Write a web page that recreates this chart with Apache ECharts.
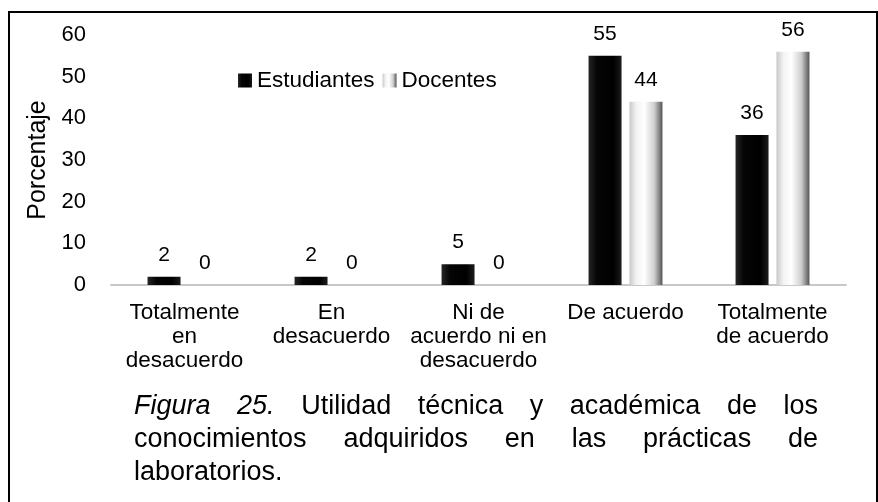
<!DOCTYPE html>
<html>
<head>
<meta charset="utf-8">
<script src="https://cdn.jsdelivr.net/npm/echarts@6/dist/echarts.min.js"></script>
<style>
  html, body { margin: 0; padding: 0; background: #fff; }
  #main { width: 878px; height: 502px; }
</style>
</head>
<body>
<div id="main"></div>
<script>
// data
const categories = [
  'Totalmente\nen\ndesacuerdo',
  'En\ndesacuerdo',
  'Ni de\nacuerdo ni en\ndesacuerdo',
  'De acuerdo',
  'Totalmente\nde acuerdo'
];
const estudiantes = [2, 2, 5, 55, 36];
const docentes = [0, 0, 0, 44, 56];
const yTicks = { min: 0, max: 60, interval: 10 };

const captionLines = [
  ['Figura', '25.', 'Utilidad', 'técnica', 'y', 'académica', 'de', 'los'],
  ['conocimientos', 'adquiridos', 'en', 'las', 'prácticas', 'de'],
  ['laboratorios.']
];
const italicWords = 2; // "Figura 25." is italic

const FONT = '"Liberation Sans", Arial, sans-serif';

// caption words placed by hand so lines come out justified
function buildCaption(x0, x1, baseline0, lineGap, size) {
  const ctx = document.createElement('canvas').getContext('2d');
  const els = [];
  captionLines.forEach((words, li) => {
    const fonts = words.map((w, wi) =>
      ((li === 0 && wi < italicWords) ? 'italic ' : '') + size + 'px ' + FONT);
    const widths = words.map((w, wi) => {
      ctx.font = fonts[wi];
      return ctx.measureText(w).width;
    });
    const total = widths.reduce((a, b) => a + b, 0);
    const justify = li < captionLines.length - 1 && words.length > 1;
    ctx.font = size + 'px ' + FONT;
    const gap = justify ? (x1 - x0 - total) / (words.length - 1) : ctx.measureText(' ').width;
    const yMid = baseline0 + li * lineGap - 0.35 * size;
    let x = x0;
    words.forEach((w, wi) => {
      els.push({
        type: 'text',
        x: x,
        y: yMid,
        silent: true,
        style: {
          text: w,
          font: fonts[wi],
          fill: '#000',
          align: 'left',
          verticalAlign: 'middle'
        }
      });
      x += widths[wi] + gap;
    });
  });
  return els;
}

const chart = echarts.init(document.getElementById('main'), null, { renderer: 'canvas' });

const labelStyle = {
  show: true,
  position: 'top',
  distance: 11,
  color: '#000',
  fontSize: 21,
  fontFamily: FONT
};

const option = {
  backgroundColor: '#fff',
  animation: false,
  textStyle: { fontFamily: FONT },
  grid: { left: 111, right: 32, top: 35, bottom: 217 },
  legend: {
    left: 233,
    top: 64,
    itemWidth: 14,
    itemHeight: 14,
    itemGap: 8,
    icon: 'rect',
    textStyle: { color: '#000', fontSize: 22.5, fontFamily: FONT },
    data: ['Estudiantes', 'Docentes']
  },
  xAxis: {
    type: 'category',
    data: categories,
    axisLine: { lineStyle: { color: '#c8c8c8', width: 2 } },
    axisTick: { show: false },
    axisLabel: {
      interval: 0,
      margin: 16,
      color: '#000',
      fontSize: 22.5,
      lineHeight: 24,
      fontFamily: FONT
    }
  },
  yAxis: {
    type: 'value',
    min: yTicks.min,
    max: yTicks.max,
    interval: yTicks.interval,
    name: 'Porcentaje',
    nameLocation: 'middle',
    nameGap: 55,
    nameTextStyle: { color: '#000', fontSize: 25, fontFamily: FONT },
    axisLine: { show: false },
    axisTick: { show: false },
    splitLine: { show: false },
    axisLabel: { margin: 25, color: '#000', fontSize: 22, fontFamily: FONT }
  },
  series: [
    {
      name: 'Estudiantes',
      type: 'bar',
      data: estudiantes,
      barWidth: 33,
      barGap: '24%',
      itemStyle: {
        color: new echarts.graphic.LinearGradient(0, 0, 1, 0, [
          { offset: 0, color: '#262626' },
          { offset: 0.25, color: '#050505' },
          { offset: 0.75, color: '#000000' },
          { offset: 1, color: '#1c1c1c' }
        ])
      },
      label: labelStyle
    },
    {
      name: 'Docentes',
      type: 'bar',
      data: docentes,
      barWidth: 33,
      itemStyle: {
        color: new echarts.graphic.LinearGradient(0, 0, 1, 0, [
          { offset: 0, color: '#c8c8c8' },
          { offset: 0.2, color: '#f2f2f2' },
          { offset: 0.45, color: '#ffffff' },
          { offset: 0.75, color: '#cfcfcf' },
          { offset: 1, color: '#555555' }
        ])
      },
      label: labelStyle
    }
  ],
  graphic: [
    {
      type: 'rect',
      silent: true,
      shape: { x: 9, y: 12, width: 868, height: 520 },
      style: { fill: 'none', stroke: '#000', lineWidth: 2 }
    }
  ].concat(buildCaption(134, 818, 416, 33, 27))
};

chart.setOption(option);
</script>
</body>
</html>
